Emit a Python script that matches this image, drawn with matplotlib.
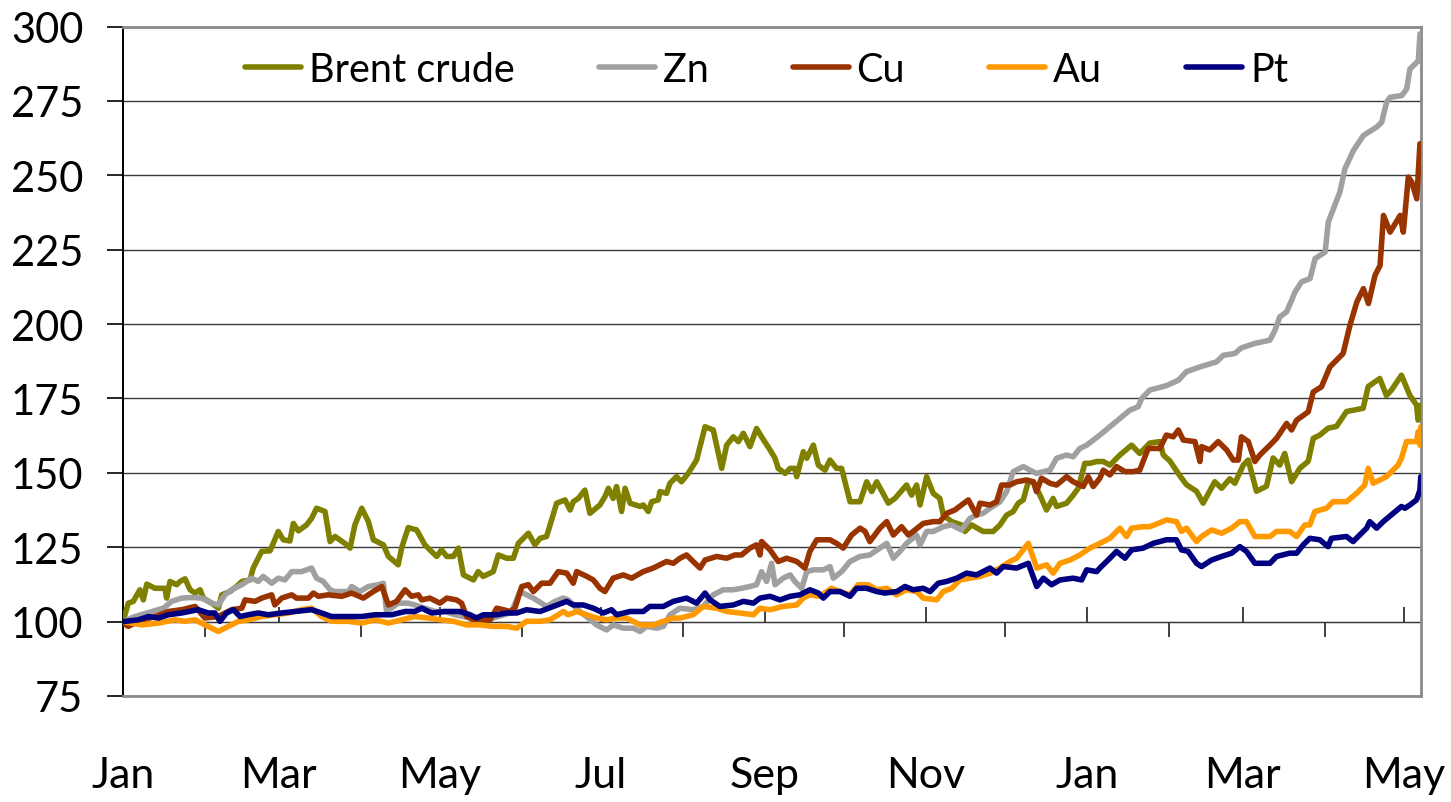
import matplotlib
matplotlib.use('Agg')
import matplotlib.pyplot as plt
from matplotlib.lines import Line2D

plt.rcParams['font.family'] = ['Lato', 'DejaVu Sans']

# ---- axis data (days since 1 Jan of first year) ----
major_days = [0, 59, 120, 181, 243, 304, 365, 424, 485]
major_labels = ['Jan', 'Mar', 'May', 'Jul', 'Sep', 'Nov', 'Jan', 'Mar', 'May']
minor_days = [31, 90, 151, 212, 273, 334, 396, 455]
y_ticks = [75, 100, 125, 150, 175, 200, 225, 250, 275, 300]

series_names = ['Brent crude', 'Zn', 'Cu', 'Au', 'Pt']
series_colors = ['#808000', '#A0A0A0', '#993300', '#FF9900', '#000080']

brent_day = [0, 2.0, 3.9, 6.4, 7.7, 9.0, 12.1, 15.9, 16.5, 17.8, 20.3, 21.6, 23.5, 25.4, 27.3, 29.2, 30.4, 33.6, 36.1, 37.4,
             40.5, 43.0, 45.0, 48.1, 49.3, 52.5, 55.7, 58.8, 60.7, 63.2, 64.5, 66.4, 69.5, 71.4, 73.3, 76.5, 78.4, 80.3, 84.0, 86.0,
             87.8, 90.4, 92.9, 94.8, 98.6, 100.5, 104.2, 105.5, 108.0, 111.2, 114.3, 116.2, 118.8, 120.6, 122.6, 125.1, 127.0, 128.9, 132.7, 134.5,
             136.4, 140.2, 142.1, 145.3, 147.8, 149.7, 153.5, 156.0, 157.9, 160.4, 164.2, 167.4, 169.3, 170.5, 172.4, 174.9, 176.8, 180.6, 182.5, 183.8,
             185.6, 186.9, 188.8, 190.1, 192.0, 195.8, 197.0, 198.9, 200.2, 202.7, 203.3, 205.8, 207.1, 209.6, 211.5, 214.0, 217.2, 220.4, 223.5, 226.7,
             228.6, 231.1, 233.0, 234.9, 237.4, 239.9, 241.8, 245.0, 246.9, 248.1, 250.7, 252.6, 254.4, 255.1, 257.6, 258.9, 261.4, 263.3, 265.8, 267.7,
             270.2, 272.1, 275.3, 279.1, 281.6, 283.5, 285.4, 289.8, 292.3, 296.7, 298.6, 300.5, 301.8, 304.3, 306.8, 309.3, 310.6, 313.8, 317.5, 318.8,
             321.3, 325.7, 329.5, 332.1, 334.6, 337.1, 339.0, 340.9, 342.8, 344.7, 347.2, 349.7, 352.2, 353.5, 357.3, 359.8, 361.7, 364.2, 366.1, 368.7,
             371.2, 373.7, 377.5, 381.9, 385.0, 388.8, 392.6, 393.9, 396.4, 400.2, 402.7, 406.5, 409.0, 413.4, 416.0, 419.1, 421.0, 424.2, 426.1, 429.2,
             433.0, 435.5, 438.0, 439.9, 442.5, 445.6, 448.8, 450.7, 453.2, 456.3, 459.5, 463.3, 469.6, 471.5, 475.9, 478.4, 480.3, 484.1, 487.3, 489.8,
             490.4, 491.4]
brent_val = [100, 106.2, 106.8, 110.7, 107.3, 112.6, 111.2, 111.2, 107.9, 113.5, 112.4, 113.5, 114.4, 110.7, 109.6, 110.7, 107.9, 106.2, 104.5, 109,
             110.1, 111.8, 113.5, 114, 118, 123.6, 123.8, 130.3, 127.5, 127.1, 133, 130.5, 132.5, 134.7, 138.1, 137, 126.9, 128.6, 126.3, 124.7,
             132.5, 138.1, 133.6, 127.5, 125.8, 121.9, 119.1, 124.7, 131.6, 130.8, 125.8, 124.1, 121.9, 124.1, 121.9, 121.9, 124.7, 115.7, 114, 116.8,
             115.2, 116.8, 122.4, 121.3, 121.3, 126.3, 129.7, 125.8, 128, 128.6, 139.8, 140.9, 137.5, 140.3, 141.4, 144.2, 136.4, 139.2, 142, 144.8,
             141.4, 145.4, 137, 144.8, 139.8, 138.7, 139.2, 137, 140.3, 140.9, 143.7, 143.1, 146.5, 148.7, 147, 149.8, 154.3, 165.5, 164.4, 151.5,
             159.3, 162.1, 160.5, 163.3, 158.8, 164.9, 162.1, 157.7, 154.9, 151.5, 149.8, 151.5, 151.5, 148.7, 157.1, 154.9, 159.3, 152.6, 150.9, 154.3,
             151.5, 151.5, 140.3, 140.3, 147, 143.7, 147, 139.8, 141.4, 145.9, 142.5, 145.9, 139.2, 148.7, 143.1, 141.4, 135.8, 133.6, 132.5, 130.3,
             132.5, 130.3, 130.3, 132.5, 135.8, 137, 139.8, 140.9, 147, 147, 142.5, 137.5, 141.4, 138.7, 139.8, 142.5, 144.8, 153.2, 153.2, 153.8,
             153.8, 152.6, 156, 159.3, 156.5, 160, 160.5, 156, 154, 149, 146, 143.8, 139.8, 147, 144.8, 148, 146.5, 152.6, 154.3, 143.8,
             145.5, 155, 152.6, 156.5, 147, 151.5, 153.9, 161.6, 162.7, 165, 165.6, 170.6, 171.7, 179, 181.7, 176, 177.8, 182.8, 176, 172.8,
             167.7, 172.8]

zn_day = [0, 4.5, 15.3, 18.4, 22.2, 26.0, 29.8, 33.6, 36.1, 38.6, 41.1, 45.0, 48.7, 51.2, 53.1, 56.3, 58.8, 61.3, 63.9, 67.6,
          71.4, 73.3, 75.8, 78.4, 80.3, 85.3, 86.6, 89.7, 92.9, 96.7, 98.6, 99.8, 104.2, 108.0, 110.5, 114.3, 118.1, 121.9, 125.7, 130,
          140, 147, 150.3, 155.4, 160.4, 163.6, 166.7, 168.6, 173.0, 176.2, 179.3, 183.1, 185.7, 189.4, 193.2, 195.8, 198.3, 202.1, 204.6, 207.1,
          210.9, 215.9, 219.7, 223.5, 227.3, 231.1, 234.2, 237.4, 239.9, 241.8, 243.7, 245.6, 246.9, 250.0, 252.6, 254.4, 257.0, 258.9, 261.4, 265.2,
          267.7, 269.0, 272.1, 275.3, 279.1, 282.8, 286.6, 289.2, 291.7, 294.2, 296.7, 300.5, 301.8, 304.3, 306.8, 310.6, 313.8, 317.5, 320.7, 323.2,
          325.7, 328.3, 332.1, 334.6, 337.1, 340.9, 343.4, 345.9, 348.5, 351.0, 353.5, 357.3, 359.8, 362.3, 364.9, 367.4, 369.9, 373.7, 377.5, 381.3,
          384.4, 385.7, 388.8, 395.1, 399.6, 402.7, 407.8, 414.1, 416.6, 421.0, 423.5, 428.6, 434.3, 436.2, 438.0, 440.6, 442.5, 443.8, 446.3, 449.5,
          451.4, 455.2, 456.4, 460.8, 462.7, 465.9, 469.7, 474.7, 476.6, 478.5, 479.8, 484.2, 486.1, 487.3, 490.5, 491.1]
zn_val = [100, 101.7, 104.5, 106.8, 107.9, 108.1, 107.9, 106.2, 105.6, 109, 110.7, 112.4, 114.6, 113.5, 115.2, 112.9, 114.6, 114, 116.8, 116.8,
          118, 114.6, 113.5, 110.7, 110.1, 110.1, 111.8, 110.1, 111.8, 112.4, 112.9, 103.4, 106.2, 106.2, 105.6, 104.5, 103.4, 103.4, 102.3, 101.5,
          101.2, 103, 110.1, 107.9, 105.1, 106.8, 107.9, 107.3, 103.4, 101.2, 98.9, 97.2, 98.9, 97.8, 97.8, 96.7, 98.4, 97.8, 98.4, 102.3,
          104.5, 104, 105.1, 109, 110.7, 110.7, 111.2, 111.8, 112.4, 116.8, 113.5, 119.6, 112.4, 114.6, 115.7, 113.5, 111.2, 116.8, 117.4, 117.4,
          118.5, 114.6, 116.8, 120.2, 121.9, 122.4, 124.7, 126.3, 121.3, 123.6, 126.3, 129.1, 125.8, 130.3, 130.3, 131.9, 132.5, 130.8, 134.7, 135.8,
          136.4, 138.1, 140.3, 143.7, 150.4, 152.1, 150.9, 149.8, 150.4, 150.9, 154.9, 156, 155.4, 158.2, 159.3, 161, 162.7, 165.5, 168.3, 171.1,
          172.2, 175, 177.8, 179.3, 181.1, 184, 185.6, 187.3, 189.5, 190.1, 192, 193.5, 194.6, 197.9, 202.4, 204.1, 208, 210.8, 214.2, 215.3,
          222, 224.2, 234.3, 244.4, 252.2, 258.3, 263.4, 266.2, 267.8, 274.6, 276.2, 276.8, 279, 285.7, 288.5, 297.5]

cu_day = [0, 2.0, 5.8, 12.1, 17.2, 22.2, 27.3, 31.0, 36.1, 41.1, 45.0, 46.2, 50.0, 52.5, 56.3, 57.5, 60.1, 63.9, 65.7, 70.2,
          72.1, 74.0, 77.7, 82.8, 86.6, 91.0, 94.8, 98.0, 100.5, 103.6, 106.8, 109.3, 111.8, 113.1, 116.2, 120.0, 122.6, 126.3, 128.2, 130.1,
          132.7, 139.0, 141.5, 144.0, 146.5, 148.4, 151.0, 153.5, 155.4, 158.5, 161.7, 164.8, 168.0, 170.5, 171.8, 175.6, 178.1, 180.6, 182.5, 185.6,
          189.4, 192.6, 197.0, 200.8, 205.8, 208.4, 210.9, 213.4, 215.9, 218.5, 220.4, 224.8, 228.6, 231.7, 234.2, 237.4, 239.9, 241.2, 241.8, 245.0,
          248.1, 251.3, 255.1, 258.2, 260.1, 262.7, 267.7, 270.2, 272.7, 275.9, 279.1, 281.0, 282.8, 286.6, 289.2, 291.7, 294.8, 297.4, 299.9, 303.0,
          306.8, 309.3, 311.9, 315.0, 317.5, 320.1, 323.2, 324.5, 328.3, 330.8, 332.7, 335.8, 338.4, 342.2, 344.7, 345.9, 347.8, 351.0, 353.5, 357.3,
          359.8, 363.6, 365.5, 367.4, 369.9, 371.2, 373.7, 376.2, 379.4, 382.5, 385.0, 388.2, 392.6, 395.1, 397.7, 399.6, 401.5, 405.9, 407.8, 408.4,
          411.5, 414.7, 417.9, 420.4, 422.3, 423.5, 426.1, 428.6, 430.5, 434.3, 436.8, 440.6, 442.5, 444.4, 448.8, 450.7, 453.8, 457.0, 462.0, 464.6,
          467.2, 469.7, 471.6, 474.1, 476.0, 477.3, 479.8, 483.6, 484.8, 486.7, 488.0, 489.9, 491.1]
cu_val = [99.5, 98.4, 100.1, 101.7, 103.4, 104, 105.1, 101.2, 101.7, 104, 104.5, 107.3, 106.8, 107.9, 109, 105.6, 107.9, 109, 107.9, 107.9,
          109.6, 108.5, 109, 108.5, 109.6, 107.9, 110.1, 111.8, 105.6, 106.8, 110.7, 108.5, 109, 107.3, 107.9, 106.2, 107.9, 107.3, 106.2, 101.7,
          100.6, 100.6, 104.5, 104, 103.4, 104.5, 111.8, 112.4, 110.1, 112.9, 112.9, 116.8, 116.3, 112.9, 116.8, 115.2, 114, 111.2, 110.1, 114.6,
          115.7, 114.6, 116.8, 118, 120.2, 119.6, 121.3, 122.4, 120.2, 118, 120.7, 121.9, 121.3, 122.4, 122.4, 124.7, 125.8, 122.4, 126.9, 124.1,
          120.2, 121.3, 120.2, 118, 123.6, 127.5, 127.5, 126.3, 124.7, 129.1, 131.4, 130.3, 126.9, 131.4, 133.6, 129.1, 131.9, 129.1, 130.8, 133,
          133.6, 133.6, 136.4, 137.5, 139.2, 140.9, 135.8, 139.8, 139.2, 140.3, 145.9, 145.9, 147, 147.6, 147, 143.7, 148.2, 146.5, 145.9, 148.7,
          147, 145.4, 148.7, 145.4, 148.2, 150.9, 149.3, 152.1, 150.4, 150.4, 150.9, 158.2, 158.2, 162.7, 162.1, 164.4, 161, 160.5, 153.8, 158.8,
          157.7, 160.5, 157.7, 154.3, 154.3, 162.1, 160.5, 153.8, 156, 159.3, 161.6, 166.6, 164.4, 167.7, 170.5, 177.2, 178.9, 185.6, 190.1, 199.6,
          207.4, 211.9, 206.9, 216.4, 219.7, 236.5, 230.9, 236.5, 230.9, 249.4, 247.7, 242.1, 260.6]

au_day = [0, 7.1, 13.4, 19.7, 23.5, 27.3, 31.0, 36.1, 39.9, 43.7, 47.4, 52.5, 57.5, 62.6, 67.6, 71.4, 75.2, 79.0, 85.3, 90.4,
          95.4, 100.5, 105.5, 110.5, 115.6, 120.3, 125.1, 130.1, 135.2, 140.2, 145.3, 149.1, 152.8, 157.9, 161.7, 164.8, 166.7, 168.6, 171.8, 175.6,
          179.3, 183.1, 186.9, 190.7, 195.8, 200.8, 204.6, 208.4, 210.9, 215.9, 219.7, 224.8, 228.6, 233.6, 238.7, 241.2, 245.0, 250.0, 255.1, 257.6,
          260.1, 263.9, 268.3, 271.5, 275.3, 278.4, 282.2, 285.4, 289.2, 292.9, 296.7, 300.5, 303.0, 308.1, 310.6, 313.8, 316.9, 320.7, 324.5, 328.3,
          332.1, 335.8, 338.4, 342.8, 346.0, 349.7, 352.2, 354.8, 358.6, 362.3, 366.1, 369.9, 373.7, 377.5, 380.0, 381.9, 386.3, 388.8, 392.0, 395.1,
          398.9, 400.8, 402.7, 406.5, 408.4, 412.2, 416.0, 419.8, 422.9, 425.4, 428.6, 434.3, 436.8, 441.8, 444.4, 447.5, 449.4, 451.3, 455.7, 458.2,
          463.3, 467.1, 470.2, 471.5, 473.4, 475.9, 478.4, 482.8, 484.1, 486.0, 489.8, 490.4, 491.1, 491.4]
au_val = [100, 98.9, 99.5, 100.6, 100.1, 100.6, 98.9, 96.7, 98.4, 100.1, 100.6, 101.7, 102.3, 102.9, 104, 104.5, 101.7, 100.1, 100.1, 99.5,
          100.6, 99.5, 100.6, 101.7, 101.2, 100.6, 100.1, 98.9, 98.9, 98.4, 98.4, 97.8, 100.1, 100.1, 100.6, 102.3, 103.4, 102.3, 103.4, 102.3,
          101.2, 100.6, 101.2, 101.2, 98.9, 98.9, 100.1, 101.2, 101.2, 102.3, 105.1, 104.5, 103.4, 102.9, 102.3, 104.5, 104, 105.1, 105.6, 107.9,
          109, 108.5, 111.2, 110.1, 109, 112.4, 112.4, 110.7, 111.2, 109, 110.7, 110.1, 107.9, 107.3, 110.1, 111.2, 114, 114.6, 115.2, 116.3,
          118, 120.2, 121.3, 126.3, 118, 119.1, 116.3, 119.6, 120.7, 122.4, 124.7, 126.3, 128, 131.4, 128.6, 131.4, 131.9, 131.9, 133, 134.2,
          133.6, 130.3, 131.4, 126.9, 128.6, 130.8, 129.7, 131.4, 133.6, 133.6, 128.6, 128.6, 130.3, 130.3, 128.6, 132.5, 132.5, 137, 138.1, 140.3,
          140.3, 143.1, 145.9, 151.5, 146.5, 147.6, 148.7, 152.6, 154.9, 160.5, 160.5, 163.8, 159.3, 165.5]

pt_day = [0, 5.8, 9.6, 13.4, 17.2, 22.2, 28.5, 32.3, 34.8, 36.7, 39.2, 41.8, 44.3, 47.4, 51.2, 55.0, 60.1, 65.1, 71.4, 75.2,
          79.0, 85.3, 90.4, 95.4, 101.7, 106.8, 110.5, 113.1, 116.9, 121.9, 127.6, 131.4, 133.9, 136.4, 141.5, 145.3, 149.1, 152.8, 157.9, 162.9,
          168.0, 170.5, 174.3, 178.1, 181.9, 185.0, 186.9, 192.0, 197.0, 199.5, 204.6, 208.4, 213.4, 217.2, 220.4, 222.3, 226.0, 231.1, 234.9, 238.7,
          241.2, 245.0, 248.8, 252.6, 256.3, 260.1, 263.3, 265.2, 267.7, 271.5, 275.3, 277.8, 281.6, 285.4, 288.5, 293.0, 296.1, 299.2, 303.0, 305.6,
          308.7, 311.9, 315.7, 319.4, 323.2, 328.3, 330.8, 333.3, 338.4, 342.8, 346.0, 348.5, 351.6, 354.8, 359.8, 363.0, 364.9, 368.7, 369.9, 373.7,
          376.2, 379.4, 381.9, 386.3, 390.1, 395.1, 398.9, 400.8, 403.3, 406.5, 408.4, 412.2, 416.0, 419.8, 422.9, 425.4, 428.6, 434.3, 436.8, 441.8,
          444.4, 446.9, 449.4, 453.2, 456.3, 457.6, 463.3, 465.8, 470.9, 472.1, 474.7, 477.2, 481.0, 484.1, 485.4, 487.3, 489.8, 491.1, 491.4]
pt_val = [100, 100.6, 101.7, 101.2, 102.3, 102.9, 104, 102.9, 102.9, 100.1, 102.9, 104, 101.7, 102.3, 102.9, 102.3, 102.9, 103.4, 104, 102.9,
          101.7, 101.7, 101.7, 102.3, 102.3, 103.4, 103.4, 104.5, 102.9, 103.4, 103.4, 102.3, 101.2, 102.3, 102.3, 102.9, 102.9, 104, 103.4, 105.1,
          106.8, 105.6, 105.6, 104.5, 102.9, 104, 102.3, 103.4, 103.4, 105.1, 105.1, 106.8, 107.9, 106.2, 109.6, 107.3, 105.1, 105.6, 106.8, 106.2,
          107.9, 108.5, 107.3, 108.5, 109, 110.7, 109.6, 107.9, 110.1, 110.1, 108.5, 111.2, 111.2, 110.1, 109.6, 110.1, 111.8, 110.7, 111.2, 110.1,
          112.9, 113.5, 114.6, 116.3, 115.7, 118, 116.3, 118.5, 118, 119.6, 111.8, 114.6, 112.4, 114, 114.6, 114, 117.4, 116.8, 118, 121.3,
          123.6, 121.3, 124.1, 124.7, 126.3, 127.5, 127.5, 124.1, 123.6, 119.6, 118.5, 120.7, 121.9, 123, 125.2, 123.6, 119.6, 119.6, 121.9, 123,
          123, 125.8, 128, 127.5, 125.2, 128, 128.6, 126.9, 131.4, 133.6, 131.4, 133.6, 136.4, 138.7, 138.1, 139.2, 140.9, 144.2, 148.7]

series_days = [brent_day, zn_day, cu_day, au_day, pt_day]
series_vals = [brent_val, zn_val, cu_val, au_val, pt_val]

# ---- figure ----
W, H = 1451, 803
fig = plt.figure(figsize=(W / 100, H / 100), dpi=100)
ax = fig.add_axes([123 / W, 1 - 697 / H, 1298 / W, (697 - 27.5) / H])

LW = 4.0
for name, d, v, c in zip(series_names, series_days, series_vals, series_colors):
    ax.plot(d, v, color=c, lw=LW, label=name, solid_joinstyle='round',
            solid_capstyle='round', zorder=3)

ax.set_xlim(0, 491.5)
ax.set_ylim(75, 300)
ax.set_yticks(y_ticks)
ax.yaxis.grid(True, color='#3a3a3a', lw=1.0)
ax.set_axisbelow(True)

for s in ['top', 'right', 'bottom']:
    ax.spines[s].set_color('#8a8a8a')
    ax.spines[s].set_linewidth(2)
ax.spines['left'].set_color('black')
ax.spines['left'].set_linewidth(1.4)

ax.tick_params(axis='y', direction='out', length=11.5, width=1.2, color='black',
               labelsize=30, pad=17)
ax.set_xticks(major_days)
ax.set_xticklabels(major_labels)
ax.tick_params(axis='x', length=0, labelsize=31, pad=43)

# category axis crossing at 100
sec = ax.secondary_xaxis(100, transform=ax.transData)
sec.set_ticks(major_days)
sec.set_ticks(minor_days, minor=True)
sec.tick_params(which='both', labelbottom=False, labeltop=False)
sec.tick_params(which='major', direction='out', length=11, width=1.2, color='#202020')
sec.tick_params(which='minor', direction='in', length=11, width=1.2, color='#202020')
sec.spines['bottom'].set_color('#3a3a3a')
sec.spines['bottom'].set_linewidth(1.2)

handles = [Line2D([], [], color=c, lw=LW, solid_capstyle='round') for c in series_colors]
fig.legend(handles, series_names, loc='center left', bbox_to_anchor=(245 / W, 1 - 70 / H),
           ncol=5, frameon=False, fontsize=28.5, handlelength=1.41, handletextpad=0.2,
           columnspacing=2.13, borderpad=0, borderaxespad=0)

fig.savefig('out.png', dpi=100)
